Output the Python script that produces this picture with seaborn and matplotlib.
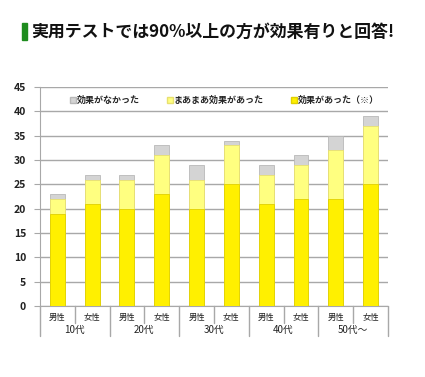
import pandas as pd
import matplotlib.pyplot as plt
import seaborn as sns
from matplotlib.patches import Rectangle
from matplotlib.lines import Line2D
import matplotlib.transforms as mtransforms

# data
ages = ["10代", "20代", "30代", "40代", "50代～"]
sexes = ["男性", "女性"] * 5
effect = [19, 21, 20, 23, 20, 25, 21, 22, 22, 25]      # 効果があった（※）
somewhat = [3, 5, 6, 8, 6, 8, 6, 7, 10, 12]            # まあまあ効果があった
no_effect = [1, 1, 1, 2, 3, 1, 2, 2, 3, 2]             # 効果がなかった
y_ticks = [0, 5, 10, 15, 20, 25, 30, 35, 40, 45]

df = pd.DataFrame({
    "pos": list(range(len(sexes))),
    "effect": effect,
    "somewhat": somewhat,
    "none": no_effect,
})
df["lvl2"] = df["effect"] + df["somewhat"]
df["lvl3"] = df["lvl2"] + df["none"]

sns.set_style("white")
plt.rcParams["font.family"] = ["Noto Sans CJK JP", "DejaVu Sans"]

fig = plt.figure(figsize=(4.25, 3.77), dpi=100)
ax = fig.add_axes([0.094, 0.188, 0.819, 0.581])

c_none = "#D4D4D4"
c_some = "#FFFF80"
c_eff = "#FFF000"

# stacked bars drawn as layered cumulative totals
sns.barplot(data=df, x="pos", y="lvl3", color=c_none, width=0.43,
            edgecolor="#B8B8B8", linewidth=0.6, saturation=1, ax=ax, zorder=3)
sns.barplot(data=df, x="pos", y="lvl2", color=c_some, width=0.43,
            edgecolor="#E8E070", linewidth=0.6, saturation=1, ax=ax, zorder=3)
sns.barplot(data=df, x="pos", y="effect", color=c_eff, width=0.43,
            edgecolor="#E0D000", linewidth=0.6, saturation=1, ax=ax, zorder=3)

ax.set_xlim(-0.5, len(sexes) - 0.5)
ax.set_ylim(0, 45)
ax.set_yticks(y_ticks)
ax.yaxis.grid(True, color="#A8A8A8", linewidth=1.0, zorder=0)
ax.set_axisbelow(True)
ax.tick_params(axis="y", length=4, color="#A8A8A8", labelsize=7.5,
               labelcolor="#222222", pad=6, left=True)
for lab in ax.get_yticklabels():
    lab.set_fontweight("bold")

ax.set_xticks(range(len(sexes)))
ax.set_xticklabels(sexes, fontsize=6, color="#222222")
ax.tick_params(axis="x", length=0, pad=5)
ax.set_xlabel("")
ax.set_ylabel("")

for side in ["top", "right"]:
    ax.spines[side].set_visible(False)
ax.spines["left"].set_color("#A8A8A8")
ax.spines["bottom"].set_color("#A8A8A8")

# category separators below the axis
trans = mtransforms.blended_transform_factory(ax.transData, ax.transAxes)
for b in [0.5, 2.5, 4.5, 6.5, 8.5]:
    ax.plot([b, b], [0, -0.075], transform=trans, color="#A8A8A8",
            linewidth=1, clip_on=False)
for b in [-0.5, 1.5, 3.5, 5.5, 7.5, 9.5]:
    ax.plot([b, b], [0, -0.135], transform=trans, color="#A8A8A8",
            linewidth=1, clip_on=False)
for i, age in enumerate(ages):
    ax.text(2 * i + 0.5, -0.11, age, transform=trans, ha="center", va="center",
            fontsize=7, color="#222222")

# legend
handles = [
    Line2D([], [], marker="s", linestyle="", markersize=4,
           markerfacecolor=c_none, markeredgecolor="#B8B8B8"),
    Line2D([], [], marker="s", linestyle="", markersize=4,
           markerfacecolor=c_some, markeredgecolor="#E8E070"),
    Line2D([], [], marker="s", linestyle="", markersize=4,
           markerfacecolor=c_eff, markeredgecolor="#E0D000"),
]
labels = ["効果がなかった", "まあまあ効果があった", "効果があった（※）"]
leg = ax.legend(handles, labels, ncol=3, frameon=False, loc="center",
                bbox_to_anchor=(0.53, 0.94), handletextpad=0.05,
                columnspacing=3.0, handlelength=0.7,
                prop={"size": 6.5, "weight": "bold"})

# title with green marker
fig.patches.append(Rectangle((22 / 425, 1 - 40 / 377), 5 / 425, 17 / 377,
                             transform=fig.transFigure, color="#1E8C1E"))
fig.text(31 / 425, 1 - 32 / 377, "実用テストでは90%以上の方が効果有りと回答!",
         fontsize=12.2, fontweight="bold", color="#111111", va="center", ha="left")

fig.savefig("out.png", dpi=100)
